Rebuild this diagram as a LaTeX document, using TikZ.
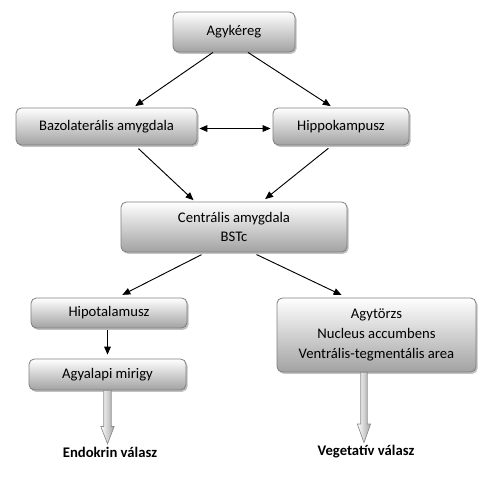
\documentclass[tikz,border=0pt]{standalone}
\usepackage{fontspec}
\setmainfont{Carlito}
\usetikzlibrary{arrows.meta,shadows,calc}
\definecolor{boxborder}{HTML}{7F7F7F}
\definecolor{boxbottom}{HTML}{A2A2A2}
\definecolor{harrowdark}{HTML}{8C8C8C}
\begin{document}
\begin{tikzpicture}[x=0.75pt,y=-0.75pt,
  box/.style={draw=boxborder, line width=0.6pt, rounded corners=4pt,
    top color=white, bottom color=boxbottom,
    drop shadow={shadow xshift=1.2pt,shadow yshift=-1.4pt,opacity=0.35,fill=black!70},
    align=center, inner sep=0pt, font=\fontsize{11pt}{14.7pt}\selectfont},
  lbl/.style={inner sep=1pt, font=\fontsize{11pt}{13pt}\selectfont\bfseries},
  arr/.style={-{Triangle[length=6pt,width=5pt]}, line width=0.7pt},
  darr/.style={{Triangle[length=6pt,width=5pt]}-{Triangle[length=6pt,width=5pt]}, line width=0.7pt},
  harrow/.style={draw=harrowdark, line width=0.5pt, left color=white, right color=harrowdark!80}
]
\useasboundingbox (0,0) rectangle (501,477);

\node[box, minimum width=91.5pt, minimum height=30pt] (ag) at (234,32) {Agykéreg};
\node[box, minimum width=135.75pt, minimum height=27.75pt] (bazo) at (106.5,126.5) {Bazolaterális amygdala};
\node[box, minimum width=102pt, minimum height=27.75pt] (hippo) at (341,126.5) {Hippokampusz};
\node[box, minimum width=169.5pt, minimum height=37.5pt] (cent) at (234,227) {Centrális amygdala\\BSTc};
\node[box, minimum width=117pt, minimum height=22.5pt] (hipo) at (109,313) {Hipotalamusz};
\node[box, minimum width=117.75pt, minimum height=23.25pt] (agyal) at (107.5,374.5) {Agyalapi mirigy};
\node[box, minimum width=149.25pt, minimum height=55.5pt] (agyt) at (376.5,335) {Agytörzs\\Nucleus accumbens\\Ventrális-tegmentális area};

\node[lbl] (endo) at (110,452) {Endokrin válasz};
\node[lbl] (veg) at (366,452) {Vegetatív válasz};

% connectors
\draw[arr, shorten >=2pt] ([xshift=-15.75pt]ag.south) -- ([xshift=19.9pt]bazo.north);
\draw[arr, shorten >=2pt] ([xshift=10.5pt]ag.south) -- ([xshift=-6pt]hippo.north);
\draw[darr, shorten >=1.5pt, shorten <=1.5pt] ([yshift=-1.5pt]bazo.east) -- ([yshift=-1.5pt]hippo.west);
\draw[arr, shorten <=3.5pt, shorten >=1.5pt] ([xshift=21.4pt]bazo.south) -- ([xshift=-29.25pt]cent.north);
\draw[arr, shorten <=3.5pt, shorten >=3pt] ([xshift=-6.75pt]hippo.south) -- ([xshift=21pt]cent.north);
\draw[arr, shorten <=3.75pt, shorten >=4.5pt] ([xshift=-21pt]cent.south) -- ([xshift=6pt]hipo.north);
\draw[arr, shorten <=3.75pt, shorten >=4.5pt] ([xshift=13.5pt]cent.south) -- ([xshift=-22.1pt]agyt.north);
\draw[arr, shorten <=1.5pt, shorten >=3pt] (hipo.south -| agyal.north) -- (agyal.north);

% hollow block arrows
\path let \p1=(agyal.south), \p2=(endo.north) in
  [harrow] (\x1-2.8pt,\y1) -- (\x1-2.8pt,\y2+14pt) -- (\x1-5pt,\y2+14pt) -- (\x1,\y2+1pt)
  -- (\x1+5pt,\y2+14pt) -- (\x1+2.8pt,\y2+14pt) -- (\x1+2.8pt,\y1) -- cycle;
\path let \p1=([xshift=-9.4pt]agyt.south), \p2=(veg.north) in
  [harrow] (\x1-2.4pt,\y1) -- (\x1-2.4pt,\y2+15pt) -- (\x1-5pt,\y2+15pt) -- (\x1,\y2+1pt)
  -- (\x1+5pt,\y2+15pt) -- (\x1+2.4pt,\y2+15pt) -- (\x1+2.4pt,\y1) -- cycle;
\end{tikzpicture}
\end{document}
